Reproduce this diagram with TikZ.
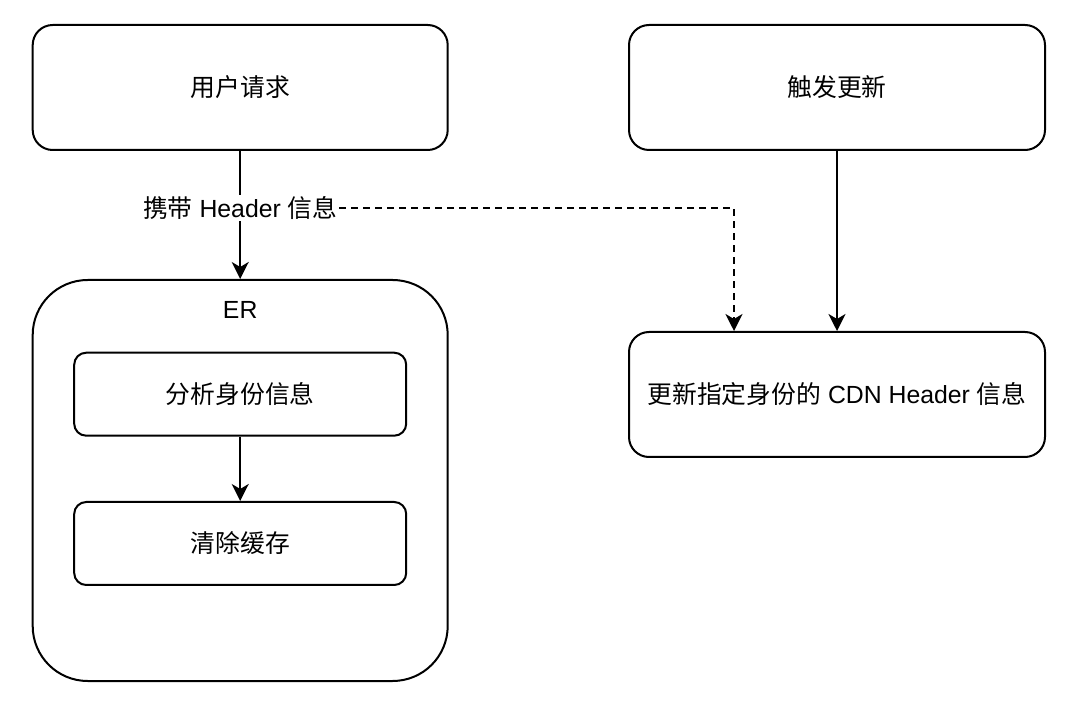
\documentclass[tikz,border=0pt]{standalone}
\usepackage{fontspec}
\setmainfont{Liberation Sans}
\newfontfamily\cjk{Noto Sans CJK SC}
\usetikzlibrary{arrows.meta}
\begin{document}
\begin{tikzpicture}[x=1pt,y=-1pt,
  every node/.style={font=\fontsize{24.8}{29}\selectfont, text=black},
  box/.style={draw=black, line width=2pt, rectangle, rounded corners=#1, inner sep=0pt},
  box/.default=20pt,
  conn/.style={draw=black, line width=2pt, -{Stealth[length=17pt,width=17pt,inset=5pt]}},
  dashconn/.style={conn, dash pattern=on 7pt off 5pt},
  lbl/.style={fill=white, inner sep=1.5pt}
]
\useasboundingbox (0,0) rectangle (1080,708);
\fill[white] (0,0) rectangle (1080,708);

\node[box, minimum width=415pt, minimum height=125pt] (req) at (240.2,87.5) {\cjk 用户请求};
\node[box, minimum width=416pt, minimum height=125pt] (trig) at (837,87.5) {\cjk 触发更新};
\node[box=55pt, minimum width=415pt, minimum height=401pt] (er) at (240.2,480.5) {};
\node (erl) at (240.2,310) {ER};
\node[box=12pt, minimum width=332pt, minimum height=83pt] (ana) at (240.2,394.2) {\cjk 分析身份信息};
\node[box=12pt, minimum width=332pt, minimum height=83pt] (clr) at (240.2,543.5) {\cjk 清除缓存};
\node[box, minimum width=416pt, minimum height=125pt] (upd) at (837,394.5) {{\cjk 更新指定身份的} CDN Header {\cjk 信息}};

\draw[conn] (req.south) -- (er.north);
\node[lbl] (hdr) at (240.2,208) {{\cjk 携带} Header {\cjk 信息}};
\coordinate (dx) at (734,206);
\draw[dashconn] (hdr.east) -- (hdr.east -| dx) -- (dx |- upd.north);
\draw[conn] (trig.south) -- (upd.north);
\draw[conn] (ana.south) -- (clr.north);
\end{tikzpicture}
\end{document}
